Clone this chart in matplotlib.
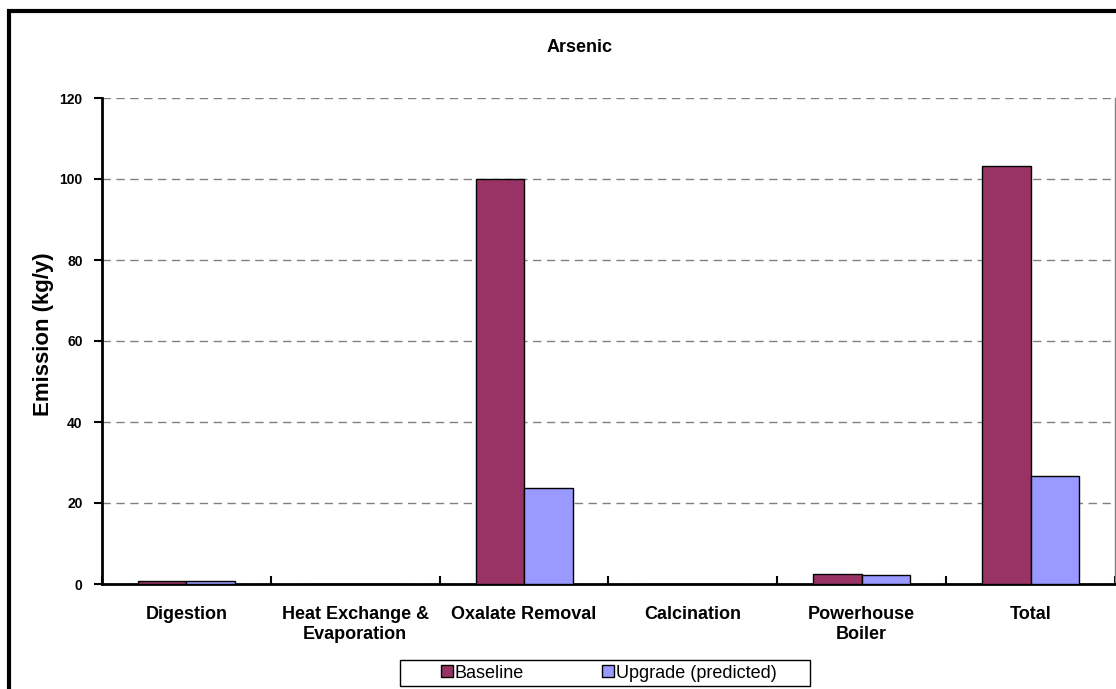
import matplotlib
matplotlib.use("Agg")
import matplotlib.pyplot as plt
from matplotlib.patches import Rectangle
import numpy as np

plt.rcParams['font.family'] = ['Liberation Sans', 'DejaVu Sans']

categories = ["Digestion", "Heat Exchange &\nEvaporation", "Oxalate Removal",
              "Calcination", "Powerhouse\nBoiler", "Total"]
baseline = [0.8, 0.0, 100.0, 0.0, 2.5, 103.2]
upgrade = [0.8, 0.0, 23.6, 0.0, 2.1, 26.7]
series_names = ["Baseline", "Upgrade (predicted)"]
yticks = [0, 20, 40, 60, 80, 100, 120]

W, H = 1116, 689
fig = plt.figure(figsize=(W / 100, H / 100), dpi=100)
ax = fig.add_axes([102 / W, 1 - 584 / H, 1013 / W, 486 / H])

# outer chart border (runs off the right and bottom edges)
fig.patches.append(Rectangle((9 / W, -0.05), 1.2, 1 - 11 / H + 0.05,
                             transform=fig.transFigure, fill=False,
                             edgecolor='black', linewidth=3, zorder=0))

x = np.arange(len(categories))
w = 0.287
ax.bar(x - w / 2, baseline, w, color='#993366', edgecolor='black',
       linewidth=1.0, label=series_names[0], zorder=3)
ax.bar(x + w / 2, upgrade, w, color='#9999FF', edgecolor='black',
       linewidth=1.0, label=series_names[1], zorder=3)

ax.set_xlim(-0.5, len(categories) - 0.5)
ax.set_ylim(0, 120)
ax.set_yticks(yticks)
ax.set_yticklabels([str(v) for v in yticks], fontsize=10, fontweight='bold')
ax.yaxis.grid(True, linestyle=(0, (6, 4)), color='#808080', linewidth=1, zorder=1)

ax.set_xticks(x)
ax.set_xticklabels(categories, fontsize=13, fontweight='bold', linespacing=1.25)
ax.tick_params(axis='x', length=0, pad=16)
ax.set_xticks(np.arange(len(categories) + 1) - 0.5, minor=True)
ax.tick_params(axis='x', which='minor', direction='in', length=6, width=1.5)
ax.tick_params(axis='y', direction='out', length=6, width=1.5, pad=8)

for s in ['left', 'bottom']:
    ax.spines[s].set_linewidth(2)
    ax.spines[s].set_color('black')
ax.spines['top'].set_visible(False)
ax.spines['right'].set_color('#808080')
ax.spines['right'].set_linewidth(1)

ax.set_ylabel("Emission (kg/y)", fontsize=16, fontweight='bold', labelpad=4)
ax.yaxis.label.set_y(0.5 + 7 / 486)
fig.text(580 / W, 1 - 47 / H, "Arsenic", ha='center', va='center',
         fontsize=13, fontweight='bold')

# legend with its own frame
fig.patches.append(Rectangle((400 / W, 1 - 686 / H), 410 / W, 26 / H,
                             transform=fig.transFigure, fill=True,
                             facecolor='white', edgecolor='black',
                             linewidth=1, zorder=2))
leg = fig.legend(loc='center left', bbox_to_anchor=(432 / W, 1 - 673 / H),
                 ncol=2, fontsize=13, frameon=False,
                 handlelength=0.65, handleheight=0.65,
                 handletextpad=0.12, columnspacing=4.3, borderpad=0.0)
leg.set_zorder(3)

fig.savefig("out.png", dpi=100)
